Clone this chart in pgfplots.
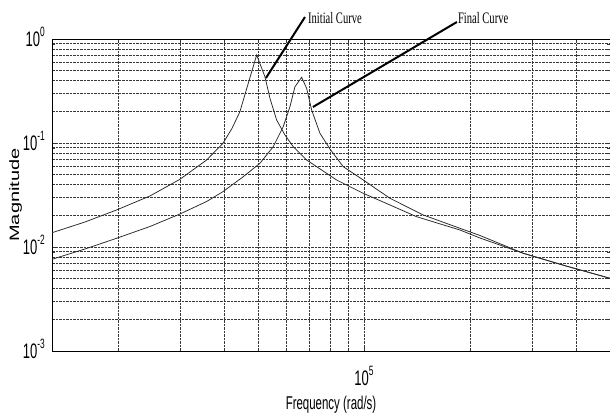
\documentclass[border=0pt]{standalone}
\usepackage{graphicx}
\usepackage{fontspec}
\setmainfont{Liberation Sans}
\newfontfamily\annfont{Liberation Serif}
\usepackage{pgfplots}
\pgfplotsset{compat=1.18}

% narrow text, as in the printed figure
\newcommand{\squish}[1]{\scalebox{0.62}[1]{#1}}
\newcommand{\tp}[1]{\squish{\fontsize{21}{21}\selectfont 10\raisebox{9.5pt}{\fontsize{13.5}{13.5}\selectfont #1}}}

\begin{document}
\begin{tikzpicture}[x=1pt,y=1pt]
\useasboundingbox (0,0) rectangle (610,419);
\begin{axis}[
  at={(52pt,68pt)}, anchor=south west,
  scale only axis, width=558pt, height=312pt,
  xmode=log, ymode=log,
  xmin=13000, xmax=500000, ymin=1e-3, ymax=1,
  clip=false,
  axis line style={black, line width=0.7pt},
  xtick={1e5}, xticklabels={\tp{5}},
  ytick={1e-3,1e-2,1e-1,1},
  yticklabels={\tp{-3},\tp{-2},\tp{-1},\tp{0}},
  minor xtick={2e4,3e4,4e4,5e4,6e4,7e4,8e4,9e4,2e5,3e5,4e5},
  minor ytick={2e-3,3e-3,4e-3,5e-3,6e-3,7e-3,8e-3,9e-3,
               2e-2,3e-2,4e-2,5e-2,6e-2,7e-2,8e-2,9e-2,
               2e-1,3e-1,4e-1,5e-1,6e-1,7e-1,8e-1,9e-1},
  grid=both,
  major grid style={black!78, line width=0.55pt, dash pattern=on 2.5pt off 1pt},
  minor grid style={black!78, line width=0.55pt, dash pattern=on 2.5pt off 1pt},
  tick style={black!80, line width=0.4pt},
  major tick length=4pt, minor tick length=3pt,
  xticklabel style={anchor=base, inner sep=0pt, yshift=-34pt},
  yticklabel style={anchor=base east, inner sep=0pt, xshift=-7pt, yshift=-7.5pt},
  xlabel={\squish{\fontsize{18.5}{18.5}\selectfont Frequency (rad/s)}},
  xlabel style={at={(axis description cs:0.5,-0.1891)}, anchor=base, inner sep=0pt},
  ylabel={\scalebox{1}[0.68]{\fontsize{20}{20}\selectfont Magnitude}},
  ylabel style={at={(axis description cs:-0.0591,0.5)}, anchor=base, inner sep=0pt},
]
% initial curve
\addplot[black!85, line width=0.75pt] coordinates {
  (13000,0.01372) (16125,0.01739) (19830,0.0227) (24660,0.03093)
  (30010,0.04477) (35730,0.06863) (39760,0.0993) (42170,0.1378)
  (44430,0.2000) (46920,0.3750) (49570,0.7018) (52330,0.4340)
  (54080,0.2690) (56490,0.1664) (59650,0.1194) (62970,0.0921)
  (68740,0.0686) (78340,0.0511) (83600,0.0441) (89300,0.03946)
  (99540,0.03283) (118560,0.02534) (141130,0.01956) (187400,0.01457)
  (213600,0.0122) (283600,0.0087) (374900,0.00657) (500000,0.0050)
};
% final curve
\addplot[black!85, line width=0.75pt] coordinates {
  (13000,0.007617) (16125,0.009567) (19830,0.01213) (24660,0.01574)
  (30010,0.02076) (35730,0.02738) (39760,0.03402) (45410,0.04742)
  (50640,0.0638) (55240,0.0921) (58980,0.1435) (61630,0.2234)
  (63680,0.3478) (66530,0.4282) (68740,0.3357) (71030,0.2077)
  (74990,0.1240) (80050,0.0876) (87340,0.0592) (99540,0.04408)
  (118560,0.02939) (147400,0.02031) (187400,0.01513) (213600,0.0129)
  (283600,0.0087) (374900,0.00657) (500000,0.0050)
};
% callouts
\draw[black, line width=2pt] (axis cs:52680,0.4217) -- (axis cs:68000,1.627);
\draw[black, line width=2pt] (axis cs:71630,0.2219) -- (axis cs:183700,1.457);
\node[anchor=base west, inner sep=0pt] at (axis cs:69320,1.394)
  {\scalebox{0.66}[1]{\annfont\fontsize{16}{16}\selectfont Initial Curve}};
\node[anchor=base west, inner sep=0pt] at (axis cs:184900,1.394)
  {\scalebox{0.66}[1]{\annfont\fontsize{16}{16}\selectfont Final Curve}};
\end{axis}
\end{tikzpicture}
\end{document}
